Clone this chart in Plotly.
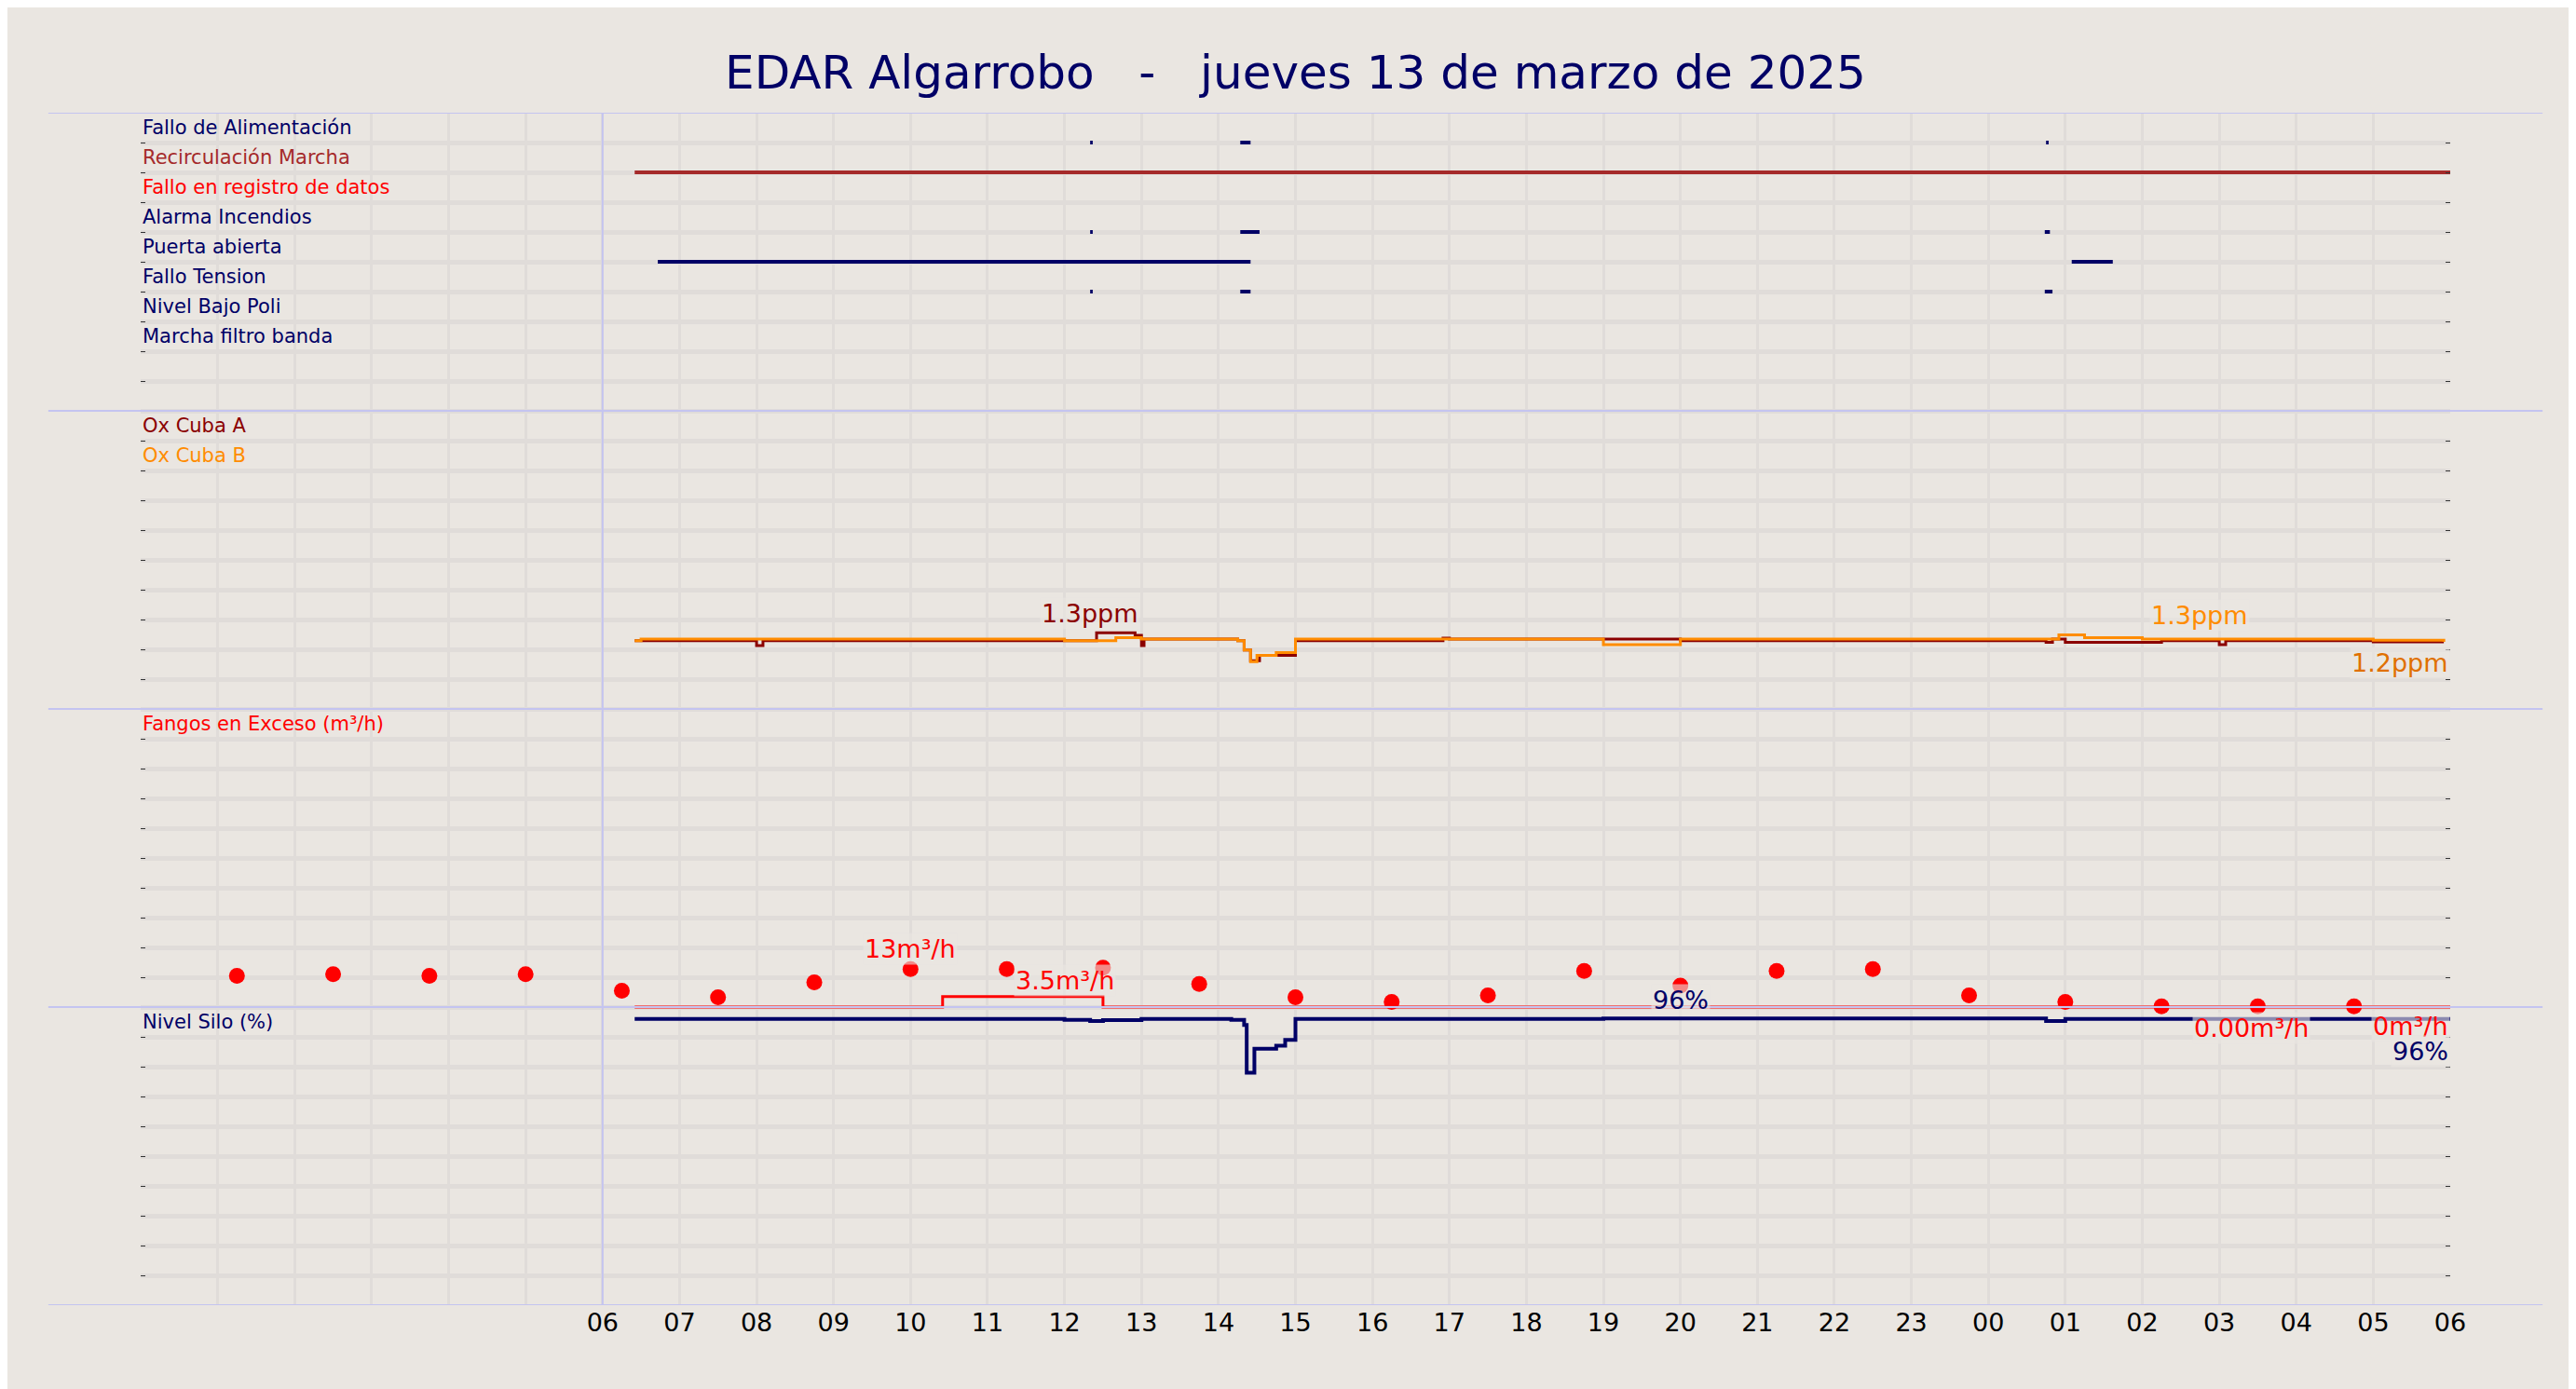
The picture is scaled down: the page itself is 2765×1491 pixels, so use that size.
import plotly.graph_objects as go

# --- digital signals: rows (top panel) and on-intervals ---
sig_names = ["Fallo de Alimentación", "Recirculación Marcha", "Fallo en registro de datos",
             "Alarma Incendios", "Puerta abierta", "Fallo Tension", "Nivel Bajo Poli", "Marcha filtro banda"]
sig_colors = ["#000066", "#A52A2A", "#FF0000", "#000066", "#000066", "#000066", "#000066", "#000066"]
sig_rows = [39, 38, 37, 36, 35, 34, 33, 32]
sig_on = [
    [("2025-03-13 12:20", "2025-03-13 12:22"), ("2025-03-13 14:17", "2025-03-13 14:25"), ("2025-03-14 00:45", "2025-03-14 00:47")],
    [("2025-03-13 06:25", "2025-03-14 06:00")],
    [],
    [("2025-03-13 12:20", "2025-03-13 12:22"), ("2025-03-13 14:17", "2025-03-13 14:32"), ("2025-03-14 00:44", "2025-03-14 00:48")],
    [("2025-03-13 06:43", "2025-03-13 14:25"), ("2025-03-14 01:05", "2025-03-14 01:37")],
    [("2025-03-13 12:20", "2025-03-13 12:22"), ("2025-03-13 14:17", "2025-03-13 14:25"), ("2025-03-14 00:44", "2025-03-14 00:50")],
    [],
    [],
]

# --- oxygen (ppm) ---
oxa_t = ["2025-03-13 06:25", "2025-03-13 08:00", "2025-03-13 08:05", "2025-03-13 12:00", "2025-03-13 12:25",
         "2025-03-13 12:55", "2025-03-13 13:00", "2025-03-13 13:02", "2025-03-13 14:15", "2025-03-13 14:20",
         "2025-03-13 14:25", "2025-03-13 14:32", "2025-03-13 15:00", "2025-03-13 16:55", "2025-03-13 17:00",
         "2025-03-13 20:00", "2025-03-14 00:45", "2025-03-14 00:50", "2025-03-14 01:00", "2025-03-14 02:15",
         "2025-03-14 03:00", "2025-03-14 03:05", "2025-03-14 05:00", "2025-03-14 05:55"]
oxa_v = [1.27, 1.18, 1.27, 1.27, 1.42, 1.37, 1.18, 1.3, 1.27, 1.1, 0.9, 1.0, 1.27, 1.32, 1.3,
         1.27, 1.24, 1.3, 1.24, 1.27, 1.2, 1.27, 1.25, 1.25]
oxb_t = ["2025-03-13 06:25", "2025-03-13 06:30", "2025-03-13 12:00", "2025-03-13 12:40", "2025-03-13 13:00",
         "2025-03-13 14:15", "2025-03-13 14:20", "2025-03-13 14:25", "2025-03-13 14:30", "2025-03-13 14:45",
         "2025-03-13 15:00", "2025-03-13 19:00", "2025-03-13 20:00", "2025-03-14 00:45", "2025-03-14 00:55",
         "2025-03-14 01:15", "2025-03-14 02:00", "2025-03-14 05:00", "2025-03-14 05:55"]
oxb_v = [1.27, 1.3, 1.27, 1.33, 1.3, 1.27, 1.1, 0.88, 1.0, 1.05, 1.3, 1.2, 1.3, 1.3, 1.38, 1.33, 1.3, 1.28, 1.25]

# --- fangos en exceso (m3/h) ---
fang_t = ["2025-03-13 06:25", "2025-03-13 10:25", "2025-03-13 12:30", "2025-03-14 06:00"]
fang_v = [0, 3.5, 0, 0]
dots_t = ["2025-03-13 01:15", "2025-03-13 02:30", "2025-03-13 03:45", "2025-03-13 05:00", "2025-03-13 06:15",
          "2025-03-13 07:30", "2025-03-13 08:45", "2025-03-13 10:00", "2025-03-13 11:15", "2025-03-13 12:30",
          "2025-03-13 13:45", "2025-03-13 15:00", "2025-03-13 16:15", "2025-03-13 17:30", "2025-03-13 18:45",
          "2025-03-13 20:00", "2025-03-13 21:15", "2025-03-13 22:30", "2025-03-13 23:45", "2025-03-14 01:00",
          "2025-03-14 02:15", "2025-03-14 03:30", "2025-03-14 04:45"]
dots_v = [10.5, 11, 10.5, 11, 5.5, 3.3, 8.3, 12.7, 12.7, 13.2, 7.7, 3.3, 1.7, 3.9, 12.1,
          7.2, 12.1, 12.7, 3.9, 1.7, 0.2, 0.2, 0.2]

# --- nivel silo (%) ---
silo_t = ["2025-03-13 06:25", "2025-03-13 12:00", "2025-03-13 12:20", "2025-03-13 12:30", "2025-03-13 13:00",
          "2025-03-13 14:10", "2025-03-13 14:20", "2025-03-13 14:22", "2025-03-13 14:28", "2025-03-13 14:45",
          "2025-03-13 14:52", "2025-03-13 15:00", "2025-03-13 19:00", "2025-03-14 00:45", "2025-03-14 01:00",
          "2025-03-14 06:00"]
silo_v = [96, 95.7, 95.3, 95.6, 96, 95.7, 94, 78, 86, 87, 89, 96, 96.2, 95.3, 96, 96]

hours = ["2025-03-13 %02d:00" % h for h in range(6, 24)] + ["2025-03-14 %02d:00" % h for h in range(0, 7)]
hour_labels = [h[-5:-3] for h in hours]

OX_BASE, OX_K = 20, 1.8      # ppm -> rows
FANG_BASE, FANG_K = 10, 0.1  # m3/h -> rows
SILO_K = 0.1                 # % -> rows

fig = go.Figure()
for name, col, row, ivs in zip(sig_names, sig_colors, sig_rows, sig_on):
    xs, ys = [], []
    for a, b in ivs:
        xs += [a, b, None]
        ys += [row, row, None]
    fig.add_trace(go.Scatter(x=xs, y=ys, mode="lines", line=dict(color=col, width=4), name=name))

fig.add_trace(go.Scatter(x=oxa_t, y=[OX_BASE + v * OX_K for v in oxa_v], mode="lines",
                         line=dict(color="#8B0000", width=3, shape="hv")))
fig.add_trace(go.Scatter(x=oxb_t, y=[OX_BASE + v * OX_K for v in oxb_v], mode="lines",
                         line=dict(color="#FF8C00", width=3, shape="hv")))
fig.add_trace(go.Scatter(x=dots_t, y=[FANG_BASE + v * FANG_K for v in dots_v], mode="markers",
                         marker=dict(color="#FF0000", size=17)))
fig.add_trace(go.Scatter(x=fang_t, y=[FANG_BASE + v * FANG_K for v in fang_v], mode="lines",
                         line=dict(color="#FF0000", width=3, shape="hv")))
fig.add_trace(go.Scatter(x=silo_t, y=[v * SILO_K for v in silo_v], mode="lines",
                         line=dict(color="#000066", width=4, shape="hv")))

lab_font = dict(family="DejaVu Sans", size=21)
for name, col, row in zip(sig_names, sig_colors, sig_rows):
    fig.add_annotation(x=0, xref="paper", y=row + 0.05, yanchor="bottom", xanchor="left", text=name,
                       showarrow=False, font=dict(lab_font, color=col))
for name, col, row in [("Ox Cuba A", "#8B0000", 29), ("Ox Cuba B", "#FF8C00", 28),
                       ("Fangos en Exceso (m³/h)", "#FF0000", 19), ("Nivel Silo (%)", "#000066", 9)]:
    fig.add_annotation(x=0, xref="paper", y=row + 0.05, yanchor="bottom", xanchor="left", text=name,
                       showarrow=False, font=dict(lab_font, color=col))

val_font = dict(family="DejaVu Sans", size=27)
for x, y, txt, col, xa, ya in [
        ("2025-03-13 12:20", OX_BASE + 1.42 * OX_K + 0.1, "1.3ppm", "#8B0000", "center", "bottom"),
        ("2025-03-14 02:45", OX_BASE + 1.33 * OX_K + 0.2, "1.3ppm", "#FF8C00", "center", "bottom"),
        ("2025-03-14 06:00", OX_BASE + 1.25 * OX_K - 0.15, "1.2ppm", "#E07000", "right", "top"),
        ("2025-03-13 10:00", FANG_BASE + 1.4, "13m³/h", "#FF0000", "center", "bottom"),
        ("2025-03-13 12:00", FANG_BASE + 0.35, "3.5m³/h", "#FF0000", "center", "bottom"),
        ("2025-03-13 20:00", FANG_BASE - 0.3, "96%", "#000066", "center", "bottom"),
        ("2025-03-14 03:25", FANG_BASE - 0.15, "0.00m³/h", "#FF0000", "center", "top"),
        ("2025-03-14 06:00", FANG_BASE - 0.1, "0m³/h", "#FF0000", "right", "top"),
        ("2025-03-14 06:00", FANG_BASE - 0.95, "96%", "#000066", "right", "top")]:
    fig.add_annotation(x=x, y=y, text=txt, showarrow=False, xanchor=xa, yanchor=ya,
                       font=dict(val_font, color=col), bgcolor="rgba(234,230,225,0.6)")

for r in [0, 10, 20, 30, 40]:
    fig.add_shape(type="line", xref="paper", x0=-0.04, x1=1.04, y0=r, y1=r,
                  line=dict(color="#C4C4F0", width=2), layer="above")
fig.add_shape(type="line", x0=hours[0], x1=hours[0], y0=0, y1=40, line=dict(color="#C4C4F0", width=2),
              layer="between")

fig.update_layout(
    width=2765, height=1491, showlegend=False,
    paper_bgcolor="#EAE6E1", plot_bgcolor="#EAE6E1",
    margin=dict(l=143, r=143, t=113, b=98),
    title=dict(text="EDAR Algarrobo   -   jueves 13 de marzo de 2025", x=0.5, y=0.965, xanchor="center",
               font=dict(family="DejaVu Sans", size=50, color="#000066")),
)
fig.update_xaxes(type="date", range=["2025-03-13 00:00", "2025-03-14 06:00"], tickvals=hours,
                 ticktext=hour_labels, showgrid=False, zeroline=False, ticks="",
                 tickfont=dict(family="DejaVu Sans", size=27, color="#000000"),
                 minor=dict(dtick=3600000, tick0="2025-03-13 00:00", showgrid=True,
                            gridcolor="#E0DCD9", gridwidth=3))
fig.update_yaxes(range=[0, 40], dtick=1, showticklabels=False, gridcolor="#E0DCD9", gridwidth=5,
                 zeroline=False, ticks="inside", ticklen=5, tickcolor="#333333", mirror="ticks")

fig.write_html("out.html")
